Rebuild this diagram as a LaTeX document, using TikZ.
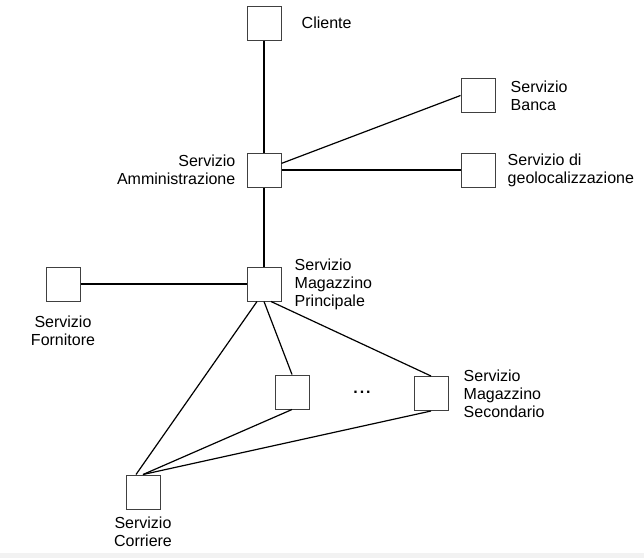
\documentclass[tikz,border=0pt]{standalone}
\usepackage{fontspec}
\setmainfont{Liberation Sans}
\usetikzlibrary{positioning}
\tikzset{serv/.style = {draw = black!75, line width = 1pt, minimum size = 34pt, inner sep = 0}}
\tikzset{lbl/.style = {inner sep = 0, font = \fontsize{16}{18}\selectfont}}
\tikzset{link/.style = {line width = 1.2pt}}

\begin{document}
\begin{tikzpicture}[x = 1pt, y = -1pt]
    \useasboundingbox (0, 0) rectangle (644, 558);
    \fill [black!5] (0, 553) rectangle (644, 558);
    % servizi
    \node [serv] (cli) at (264, 23) {};
    \node [serv] (adm) at (264, 170) {};
    \node [serv] (banca) at (478, 95.5) {};
    \node [serv] (geo) at (478, 170) {};
    \node [serv] (mp) at (264, 284) {};
    \node [serv] (forn) at (63, 284) {};
    \node [serv] (mid) at (292, 392) {};
    \node [serv] (sec) at (431, 393.5) {};
    \node [serv] (cor) at (143, 492) {};
    % etichette
    \node [lbl, right = 20pt of cli] (cliL) {Cliente};
    \node [lbl, right = 15pt of banca, align = left] (bancaL) {Servizio\\Banca};
    \node [lbl, right = 12pt of geo, align = left] (geoL) {Servizio di\\geolocalizzazione};
    \node [lbl, left = 11pt of adm, align = right] (admL) {Servizio\\Amministrazione};
    \node [lbl, right = 13pt of mp, align = left] (mpL) {Servizio\\Magazzino\\Principale};
    \node [lbl, below = 14pt of forn, align = center] (fornL) {Servizio\\Fornitore};
    \node [lbl, below = 7pt of cor, align = center] (corL) {Servizio\\Corriere};
    \node [lbl, right = 15pt of sec, align = left] (secL) {Servizio\\Magazzino\\Secondario};
    \node [lbl, font = \fontsize{16}{18}\selectfont\bfseries] (dots) at (362, 392.5) {.\hspace{2pt}.\hspace{2pt}.};
    % collegamenti
    \draw [link] (cli) -- (adm);
    \draw [link] (adm) -- (banca.west);
    \draw [link] (adm) -- (geo);
    \draw [link] (adm) -- (mp);
    \draw [link] (forn) -- (mp);
    \draw [link] ([xshift = -7pt]mp.south) -- ([xshift = -7pt]cor.north);
    \draw [link] (mp.south) -- (mid.north);
    \draw [link] ([xshift = 7pt]mp.south) -- (sec.north);
    \draw [link] (mid.south) -- (cor.north);
    \draw [link] (sec.south) -- (cor.north);
  \end{tikzpicture}
\end{document}
